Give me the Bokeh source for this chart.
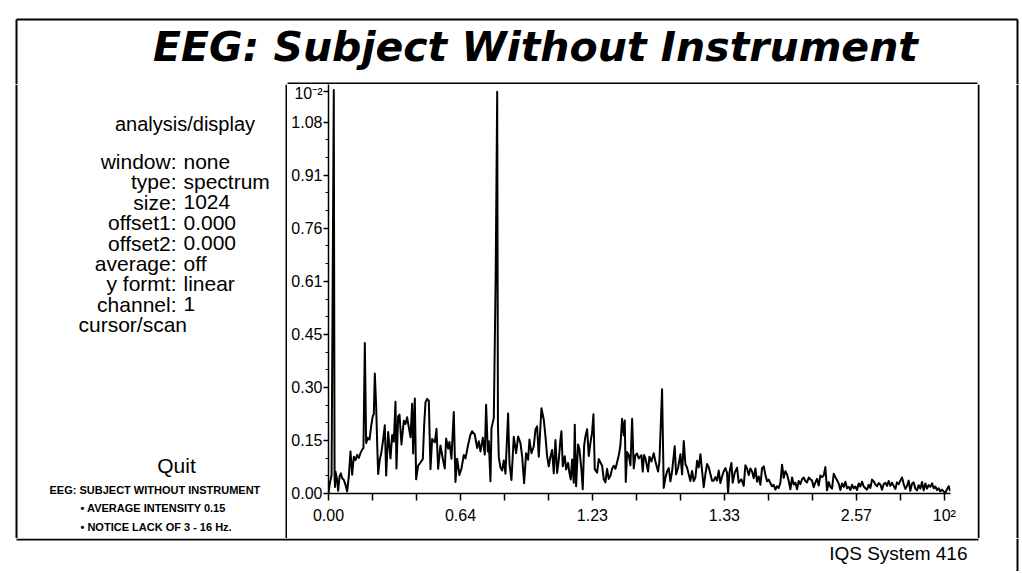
from bokeh.plotting import figure
from bokeh.layouts import column, row
from bokeh.models import Range1d, FixedTicker
from bokeh.core.properties import value
from bokeh.embed import file_html
from bokeh.resources import INLINE

# ---------------- texts ----------------
TITLE = "EEG: Subject Without Instrument"
PANEL_HEADER = "analysis/display"
SETTING_NAMES = ["window:", "type:", "size:", "offset1:", "offset2:", "average:", "y formt:", "channel:"]
SETTING_VALUES = ["none", "spectrum", "1024", "0.000", "0.000", "off", "linear", "1"]
CURSOR_TEXT = "cursor/scan"
QUIT_TEXT = "Quit"
NOTE_TITLE = "EEG: SUBJECT WITHOUT INSTRUMENT"
NOTE_BULLETS = ["\u2022 AVERAGE INTENSITY 0.15", "\u2022 NOTICE LACK OF 3 - 16 Hz."]
FOOTER_TEXT = "IQS System 416"

# ---------------- axes ----------------
X_TICKS = list(range(15))
X_TICK_LABELS = {0: "0.00", 3: "0.64", 6: "1.23", 9: "1.33", 12: "2.57", 14: "10\u00b2"}
Y_TICK_POS = [0.0, 0.1525, 0.305, 0.4575, 0.61, 0.7625, 0.915, 1.0675]
Y_TICK_LABELS = ["0.00", "0.15", "0.30", "0.45", "0.61", "0.76", "0.91", "1.08"]
Y_SCALE_POS = 1.156
Y_SCALE_LABEL = "10\u207b\u00b2"

# ---------------- spectrum (x in tick units, amplitude in 10^-2) ----------------
FREQ = [
    0.000, 0.030, 0.070, 0.120, 0.138, 0.148, 0.159, 0.189, 0.220, 0.250,
    0.280, 0.311, 0.348, 0.386, 0.424, 0.462, 0.500, 0.538, 0.576, 0.614,
    0.652, 0.689, 0.727, 0.765, 0.795, 0.826, 0.856, 0.894, 0.932, 0.970,
    1.008, 1.030, 1.053, 1.083, 1.106, 1.129, 1.167, 1.197, 1.235, 1.280,
    1.311, 1.356, 1.409, 1.447, 1.485, 1.523, 1.545, 1.583, 1.614, 1.659,
    1.712, 1.750, 1.788, 1.826, 1.864, 1.902, 1.924, 1.962, 1.992, 2.038,
    2.091, 2.144, 2.174, 2.205, 2.242, 2.280, 2.318, 2.356, 2.417, 2.455,
    2.492, 2.545, 2.598, 2.644, 2.674, 2.720, 2.750, 2.795, 2.848, 2.886,
    2.924, 2.977, 3.023, 3.076, 3.114, 3.174, 3.227, 3.265, 3.326, 3.379,
    3.417, 3.455, 3.508, 3.553, 3.583, 3.621, 3.644, 3.682, 3.705, 3.758,
    3.800, 3.835, 3.852, 3.871, 3.909, 3.947, 3.985, 4.023, 4.083, 4.114,
    4.159, 4.212, 4.265, 4.311, 4.364, 4.402, 4.447, 4.492, 4.538, 4.568,
    4.614, 4.667, 4.705, 4.742,
    4.780, 4.841, 4.894, 4.932, 4.970, 5.008, 5.045, 5.083, 5.121, 5.159,
    5.197, 5.235, 5.273, 5.295, 5.326, 5.371, 5.402, 5.447, 5.477, 5.508,
    5.538, 5.576, 5.598, 5.629, 5.674, 5.705, 5.750, 5.780, 5.811, 5.841,
    5.879, 5.917, 5.955, 5.992, 6.023, 6.053, 6.106, 6.144, 6.182, 6.220,
    6.258, 6.295, 6.333, 6.371, 6.409, 6.447, 6.485, 6.523, 6.561, 6.598,
    6.636, 6.674, 6.712, 6.735, 6.758, 6.788, 6.826, 6.864, 6.902, 6.939,
    6.977, 7.015, 7.053, 7.114, 7.144, 7.174, 7.205, 7.265, 7.295, 7.341,
    7.394, 7.432, 7.492, 7.523, 7.583, 7.621, 7.659, 7.697, 7.735, 7.773,
    7.811, 7.871, 7.902, 7.947, 8.000, 8.038, 8.076, 8.114, 8.152, 8.189,
    8.227, 8.265, 8.303, 8.341, 8.379, 8.417, 8.455, 8.492, 8.530, 8.568,
    8.606, 8.644, 8.682, 8.720, 8.758, 8.795, 8.833, 8.871, 8.909, 8.947,
    8.985, 9.023, 9.061, 9.083, 9.114, 9.159, 9.189, 9.235, 9.288, 9.326,
    9.386, 9.439,
    9.477, 9.515, 9.553, 9.591, 9.629, 9.667, 9.705, 9.742, 9.780, 9.818,
    9.856, 9.894, 9.932, 9.970, 10.008, 10.045, 10.083, 10.121, 10.159, 10.197,
    10.235, 10.273, 10.311, 10.348, 10.386, 10.424, 10.462, 10.500, 10.538, 10.576,
    10.614, 10.652, 10.689, 10.727, 10.765, 10.803, 10.841, 10.879, 10.917, 10.955,
    10.992, 11.030, 11.068, 11.106, 11.144, 11.182, 11.220, 11.258, 11.295, 11.333,
    11.371, 11.409, 11.447, 11.485, 11.523, 11.561, 11.598, 11.636, 11.674, 11.712,
    11.750, 11.788, 11.826, 11.864, 11.902, 11.939, 11.977, 12.015, 12.053, 12.091,
    12.129, 12.167, 12.205, 12.242, 12.280, 12.318, 12.356, 12.394, 12.432, 12.470,
    12.508, 12.545, 12.583, 12.621, 12.659, 12.697, 12.735, 12.773, 12.811, 12.848,
    12.886, 12.924, 12.962, 13.000, 13.038, 13.076, 13.114, 13.152, 13.189, 13.227,
    13.265, 13.303, 13.341, 13.379, 13.417, 13.455, 13.492, 13.530, 13.568, 13.606,
    13.644, 13.682, 13.720, 13.758, 13.795, 13.833, 13.871, 13.909, 13.947, 13.985,
    14.023, 14.061, 14.098, 14.136,
]

AMP = [
    0.002, 0.029, 0.053, 1.160, 0.048, 0.019, 0.063, 0.044, 0.008, 0.048,
    0.058, 0.044, 0.039, 0.025, 0.006, 0.049, 0.121, 0.054, 0.106, 0.096,
    0.111, 0.102, 0.116, 0.126, 0.131, 0.433, 0.145, 0.160, 0.155, 0.194,
    0.223, 0.228, 0.345, 0.253, 0.147, 0.056, 0.099, 0.114, 0.148, 0.196,
    0.052, 0.177, 0.101, 0.168, 0.149, 0.264, 0.072, 0.222, 0.227, 0.141,
    0.209, 0.200, 0.219, 0.190, 0.162, 0.258, 0.115, 0.273, 0.041, 0.080,
    0.089, 0.099, 0.195, 0.262, 0.272, 0.267, 0.070, 0.157, 0.147, 0.186,
    0.071, 0.138, 0.100, 0.072, 0.158, 0.129, 0.148, 0.100, 0.234, 0.033,
    0.100, 0.053, 0.072, 0.111, 0.101, 0.140, 0.169, 0.179, 0.169, 0.131,
    0.150, 0.121, 0.160, 0.112, 0.255, 0.121, 0.150, 0.035, 0.188, 0.217,
    0.620, 1.155, 0.198, 0.104, 0.075, 0.066, 0.095, 0.057, 0.230, 0.086,
    0.039, 0.163, 0.116, 0.164, 0.145, 0.107, 0.030, 0.116, 0.097, 0.155,
    0.116, 0.136, 0.184, 0.193,
    0.106, 0.245, 0.212, 0.164, 0.107, 0.078, 0.106, 0.125, 0.058, 0.154,
    0.059, 0.097, 0.155, 0.179, 0.078, 0.107, 0.069, 0.088, 0.059, 0.040,
    0.098, 0.031, 0.198, 0.021, 0.141, 0.127, 0.069, 0.012, 0.137, 0.165,
    0.185, 0.108, 0.146, 0.175, 0.228, 0.070, 0.060, 0.099, 0.089, 0.080,
    0.041, 0.032, 0.071, 0.042, 0.051, 0.071, 0.080, 0.071, 0.090, 0.109,
    0.138, 0.215, 0.167, 0.210, 0.033, 0.119, 0.110, 0.081, 0.215, 0.072,
    0.110, 0.115, 0.101, 0.110, 0.063, 0.111, 0.101, 0.063, 0.106, 0.092,
    0.116, 0.092, 0.063, 0.092, 0.300, 0.016, 0.045, 0.064, 0.073, 0.035,
    0.064, 0.136, 0.055, 0.074, 0.113, 0.055, 0.151, 0.084, 0.074, 0.055,
    0.036, 0.065, 0.036, 0.046, 0.094, 0.075, 0.113, 0.066, 0.018, 0.056,
    0.085, 0.075, 0.056, 0.037, 0.037, 0.047, 0.037, 0.066, 0.030, 0.049,
    0.064, 0.073, 0.059, 0.000, 0.059, 0.088, 0.031, 0.060, 0.074, 0.031,
    0.041, 0.022,
    0.081, 0.072, 0.053, 0.072, 0.063, 0.044, 0.072, 0.034, 0.049, 0.025,
    0.073, 0.078, 0.054, 0.035, 0.040, 0.030, 0.021, 0.025, 0.011, 0.021,
    0.016, 0.031, 0.083, 0.045, 0.064, 0.055, 0.036, 0.012, 0.046, 0.026,
    0.031, 0.012, 0.036, 0.027, 0.041, 0.046, 0.036, 0.032, 0.046, 0.041,
    0.037, 0.018, 0.032, 0.042, 0.023, 0.052, 0.047, 0.052, 0.076, 0.009,
    0.033, 0.019, 0.014, 0.057, 0.047, 0.038, 0.029, 0.010, 0.029, 0.019,
    0.034, 0.015, 0.019, 0.010, 0.025, 0.015, 0.020, 0.010, 0.029, 0.020,
    0.034, 0.020, 0.015, 0.011, 0.025, 0.016, 0.040, 0.035, 0.026, 0.021,
    0.030, 0.026, 0.011, 0.027, 0.031, 0.022, 0.036, 0.022, 0.031, 0.022,
    0.013, 0.032, 0.027, 0.037, 0.046, 0.027, 0.013, 0.022, 0.037, 0.008,
    0.028, 0.032, 0.014, 0.009, 0.024, 0.014, 0.033, 0.009, 0.029, 0.014,
    0.024, 0.019, 0.029, 0.015, 0.020, 0.010, 0.015, 0.006, 0.011, 0.006,
    0.002, 0.012, 0.021, 0.007,
]

FONT = "Liberation Sans"
INK = "black"
TOTAL_W = 1020


def no_align(f):
    try:
        f.frame_align = False
    except Exception:
        pass


def panel(w, h):
    f = figure(width=w, height=h, x_range=Range1d(0, w), y_range=Range1d(h, 0),
               x_axis_location=None, y_axis_location=None, toolbar_location=None,
               output_backend="svg", min_border=0, title=None,
               outline_line_color=None, background_fill_color="white",
               border_fill_color="white")
    f.grid.visible = False
    no_align(f)
    return f


def rule(f, x0, y0, x1, y1, w=2):
    f.segment(x0=x0, y0=y0, x1=x1, y1=y1, line_color=INK, line_width=w)


# ---------------- header (0..84) ----------------
header = panel(TOTAL_W, 84)
rule(header, [16, 16, 1017, 287], [19, 19, 19, 83], [1017, 16, 1017, 977], [19, 84, 84, 83])
header.text(x=[535], y=[46], text=[TITLE], text_font=value("DejaVu Sans"),
            text_font_style="bold italic", text_font_size="41px", text_align="center",
            text_baseline="middle", text_color=INK)

# ---------------- left info panel (x 0..287, y 84..538) ----------------
left = panel(287, 454)
rule(left, [16, 286], [0, 0], [16, 286], [454, 454])
left.text(x=[184.5], y=[39], text=[PANEL_HEADER], text_font=value(FONT),
          text_font_size="20px", text_align="center", text_baseline="middle", text_color=INK)
row_y = [77 + 20.4 * i for i in range(len(SETTING_NAMES))]
left.text(x=[176] * len(SETTING_NAMES), y=row_y, text=SETTING_NAMES, text_font=value(FONT),
          text_font_size="21px", text_align="right", text_baseline="middle", text_color=INK)
left.text(x=[183] * len(SETTING_VALUES), y=row_y, text=SETTING_VALUES, text_font=value(FONT),
          text_font_size="21px", text_align="left", text_baseline="middle", text_color=INK)
left.text(x=[78], y=[240], text=[CURSOR_TEXT], text_font=value(FONT),
          text_font_size="21px", text_align="left", text_baseline="middle", text_color=INK)
left.text(x=[176], y=[381], text=[QUIT_TEXT], text_font=value(FONT),
          text_font_size="21px", text_align="center", text_baseline="middle", text_color=INK)
left.text(x=[49], y=[405], text=[NOTE_TITLE], text_font=value(FONT), text_font_style="bold",
          text_font_size="11px", text_align="left", text_baseline="middle", text_color=INK)
left.text(x=[80, 80], y=[423, 442], text=NOTE_BULLETS, text_font=value(FONT),
          text_font_style="bold", text_font_size="11px", text_align="left",
          text_baseline="middle", text_color=INK)

# ---------------- spectrum plot (x 287..977) ----------------
plot = figure(width=690, height=454, x_range=Range1d(0, 14.14), y_range=Range1d(0, 1.176),
              min_border_left=41, min_border_right=27, min_border_top=0, min_border_bottom=45,
              toolbar_location=None, output_backend="svg", title=None,
              outline_line_color=None, background_fill_color="white", border_fill_color="white")
no_align(plot)
plot.xgrid.visible = False
plot.ygrid.visible = False
plot.line(FREQ, AMP, line_color=INK, line_width=2.0, line_join="round")

xa = plot.xaxis[0]
xa.ticker = FixedTicker(ticks=X_TICKS, minor_ticks=[])
xa.major_label_overrides = {t: X_TICK_LABELS.get(t, "") for t in X_TICKS}
xa.major_tick_out = 7
xa.major_tick_in = 0
xa.major_label_standoff = 6

ya = plot.yaxis[0]
y_ticks = Y_TICK_POS + [Y_SCALE_POS]
step = Y_TICK_POS[1]
ya.ticker = FixedTicker(ticks=y_ticks, minor_ticks=[round(k * step / 3, 5) for k in range(22)])
ya.major_label_overrides = dict(zip(y_ticks, Y_TICK_LABELS + [Y_SCALE_LABEL]))
ya.major_tick_out = 5
ya.major_tick_in = 0
ya.minor_tick_out = 3
ya.minor_tick_in = 0
ya.major_label_standoff = 1

for ax in (xa, ya):
    ax.axis_line_color = INK
    ax.axis_line_width = 1.5
    ax.major_tick_line_color = INK
    ax.major_tick_line_width = 1.5
    ax.minor_tick_line_color = INK
    ax.minor_tick_line_width = 1.2
    ax.major_label_text_font = FONT
    ax.major_label_text_font_size = "16px"
    ax.major_label_text_color = INK

# ---------------- right strip (x 977..1020) ----------------
right = panel(TOTAL_W - 977, 454)
rule(right, [1, 40], [0, 0], [1, 40], [454, 454])

# ---------------- footer (y 538..571) ----------------
footer = panel(TOTAL_W, 33)
rule(footer, [16, 1017], [1, 0], [978, 1017], [1, 33])
footer.text(x=[967], y=[15], text=[FOOTER_TEXT], text_font=value(FONT),
            text_font_size="19px", text_align="right", text_baseline="middle", text_color=INK)

layout = column(header, row(left, plot, right, spacing=0), footer, spacing=0)

open("out.html", "w").write(file_html(layout, INLINE))
